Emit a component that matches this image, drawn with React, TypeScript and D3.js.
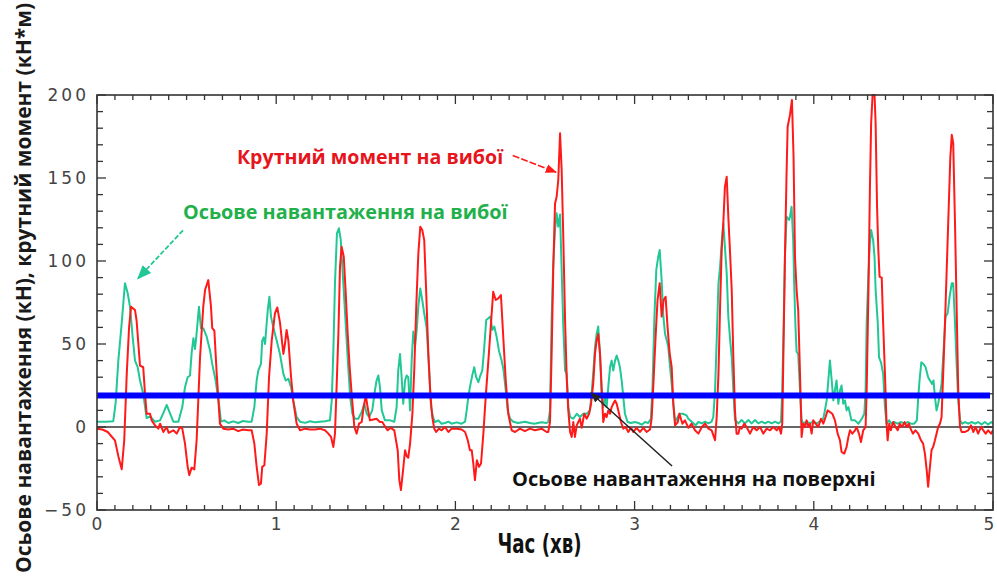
import React from 'react';
import * as d3 from 'd3';

// time (min), torque at bit (kN*m) - red
const torque: [number, number][] = [
  [0, -1], [0.03, -1.5], [0.06, -3], [0.1, -8], [0.12, -18], [0.138, -25.5], [0.152, -8], [0.166, 32],
  [0.179, 60], [0.19, 72.5], [0.212, 70.5], [0.221, 64], [0.24, 37], [0.258, 36], [0.268, 20], [0.277, 8],
  [0.296, 8], [0.305, 4], [0.324, 1], [0.342, -1], [0.352, 2], [0.37, -3], [0.389, 0], [0.4, -3.5],
  [0.426, -2], [0.445, -4], [0.463, 0], [0.476, -1], [0.491, -10], [0.506, -24], [0.515, -29], [0.528, -24.5],
  [0.543, -25.5], [0.556, -8], [0.575, 42], [0.593, 72.5], [0.603, 82.5], [0.621, 88.5], [0.636, 72.5],
  [0.643, 59.6], [0.655, 58], [0.668, 32], [0.686, 2], [0.705, -1], [0.733, -1.5], [0.76, -1], [0.788, -2.5],
  [0.815, -1.5], [0.844, -2], [0.863, -2], [0.878, -10], [0.891, -24], [0.904, -35], [0.915, -34], [0.922, -24],
  [0.934, -23], [0.947, -4], [0.96, 30], [0.975, 52], [0.993, 68.5], [1.006, 72], [1.021, 63], [1.04, 44],
  [1.049, 50], [1.058, 58.5], [1.068, 52], [1.083, 30], [1.095, 16], [1.114, 2], [1.133, -2], [1.161, -1],
  [1.189, -1.5], [1.217, -1.5], [1.244, -1], [1.272, -2], [1.291, -4], [1.306, -6], [1.319, -12], [1.328, -4],
  [1.337, 24], [1.347, 56], [1.356, 96.5], [1.365, 108.6], [1.377, 102.6], [1.388, 80.5], [1.399, 56],
  [1.41, 36], [1.421, 20], [1.436, 0], [1.449, -4], [1.462, 2], [1.477, 3], [1.488, 12], [1.5, 19], [1.51, 12],
  [1.523, 4], [1.542, 4.5], [1.56, 5], [1.579, 3], [1.592, 3], [1.603, 1], [1.622, -2], [1.64, -0.5],
  [1.659, -2], [1.678, -14], [1.687, -32], [1.696, -38], [1.708, -26], [1.719, -14], [1.728, -17.5],
  [1.737, -18.5], [1.747, -10], [1.76, 8], [1.771, 36], [1.782, 74], [1.793, 104], [1.804, 120.7],
  [1.815, 118.7], [1.826, 112.6], [1.836, 84.5], [1.849, 44], [1.86, 20], [1.871, 6], [1.882, -1],
  [1.893, -3], [1.908, -1], [1.923, -2], [1.942, 0], [1.961, -3], [1.979, -1], [2.007, -1], [2.035, -1.5],
  [2.054, -3], [2.069, -8], [2.081, -14], [2.091, -14], [2.1, -22], [2.109, -32], [2.12, -20], [2.132, -24],
  [2.143, -22], [2.156, -4], [2.169, 18], [2.184, 40], [2.197, 60], [2.211, 81.5], [2.225, 76.5],
  [2.239, 77.5], [2.254, 79.5], [2.267, 54.4], [2.281, 28], [2.295, 8], [2.314, -2], [2.333, -3], [2.36, -1],
  [2.388, -2.5], [2.416, -1], [2.444, -2], [2.481, -1], [2.509, -3], [2.518, -3], [2.528, 3], [2.537, 44],
  [2.546, 94.6], [2.556, 134.7], [2.565, 138.7], [2.574, 148.8], [2.584, 176.9], [2.593, 154.8],
  [2.602, 114.6], [2.612, 64.5], [2.621, 30], [2.63, 10], [2.64, -3], [2.649, -6], [2.658, 3], [2.667, -6],
  [2.677, 1], [2.686, 3], [2.695, 5], [2.705, -0.5], [2.719, 8], [2.733, 5], [2.746, 8], [2.757, 14],
  [2.769, 26], [2.779, 44], [2.788, 52], [2.797, 56], [2.807, 44], [2.816, 24], [2.825, 3], [2.835, 8],
  [2.844, 6], [2.853, 10], [2.863, 8], [2.872, 12], [2.881, 14], [2.891, 16], [2.9, 14], [2.909, 10],
  [2.924, 3], [2.937, -1], [2.95, 0], [2.965, -3], [2.98, -0.5], [2.993, -3], [3.011, -0.5], [3.03, -3],
  [3.049, -0.5], [3.067, -3], [3.086, -1.5], [3.095, 5], [3.104, 24], [3.117, 54], [3.128, 76.5],
  [3.14, 86.6], [3.151, 66.5], [3.162, 76.5], [3.173, 78.5], [3.184, 60], [3.196, 44], [3.207, 36],
  [3.216, 14], [3.226, 1], [3.241, 3], [3.25, 8], [3.267, 2], [3.281, 4], [3.3, -0.5], [3.318, 2],
  [3.337, -2], [3.356, -4], [3.375, 0], [3.393, 2], [3.412, -1], [3.43, -2], [3.449, -8], [3.458, 6],
  [3.468, 32], [3.477, 72.5], [3.486, 106.6], [3.495, 122.7], [3.504, 144.8], [3.514, 150.8],
  [3.523, 126.7], [3.532, 106.6], [3.542, 82.5], [3.551, 42], [3.56, 10], [3.569, -4], [3.579, -4],
  [3.588, 0], [3.597, -1], [3.612, 2], [3.625, 0], [3.644, -4], [3.662, 0], [3.681, -2], [3.7, 0],
  [3.718, -4], [3.737, -1], [3.756, -2], [3.774, 0], [3.793, -2], [3.806, 0], [3.817, -4], [3.824, 2],
  [3.83, 42], [3.839, 102.6], [3.848, 152.8], [3.854, 180.9], [3.867, 188], [3.878, 197], [3.887, 162.8],
  [3.895, 102.6], [3.904, 82.5], [3.913, 70.5], [3.923, 32], [3.932, -6], [3.941, 2], [3.95, 0], [3.96, 4],
  [3.969, 0], [3.978, 2], [3.988, -4], [3.997, 4], [4.01, 2], [4.025, 0], [4.04, 5], [4.053, 2], [4.066, 6],
  [4.077, 10], [4.09, 9], [4.103, 8], [4.118, 4], [4.133, -4], [4.146, -8], [4.155, -15], [4.17, -16],
  [4.183, -12], [4.193, -6], [4.202, -2], [4.215, -4], [4.23, -2], [4.239, 0], [4.252, -4], [4.263, -9],
  [4.276, -2], [4.289, 0], [4.295, 22], [4.305, 82.5], [4.313, 142.8], [4.32, 183], [4.328, 200],
  [4.339, 200], [4.345, 183], [4.353, 132.7], [4.36, 106.6], [4.367, 90.5], [4.379, 90], [4.387, 62.5],
  [4.397, 32], [4.406, 2], [4.412, -8], [4.421, 2], [4.43, -2], [4.443, 3], [4.456, 0], [4.468, -2],
  [4.48, 2], [4.492, 0], [4.507, 3], [4.518, 0], [4.53, 2], [4.54, -1], [4.553, -4], [4.567, -2],
  [4.583, -4], [4.598, -8], [4.61, -10], [4.62, -16], [4.63, -26], [4.638, -36], [4.648, -24], [4.657, -14],
  [4.666, -12], [4.676, -8], [4.685, -4], [4.694, 0], [4.704, 2], [4.713, 6], [4.722, 32], [4.732, 62.5],
  [4.741, 92.6], [4.75, 122.7], [4.762, 162.8], [4.77, 176], [4.778, 171], [4.788, 122.7], [4.797, 72.5],
  [4.806, 22], [4.816, 0], [4.825, -3], [4.844, -3], [4.862, -2], [4.877, 1], [4.89, -3], [4.903, 0],
  [4.917, -4], [4.933, 0], [4.946, -2], [4.959, -4], [4.973, -2], [4.989, -4], [5, -2],
];

// time (min), axial load at bit (kN) - green
const bitLoad: [number, number][] = [
  [0, 3.2], [0.05, 3.2], [0.091, 3.5], [0.104, 14.5], [0.119, 40], [0.138, 62.7], [0.156, 86.6],
  [0.171, 80.7], [0.184, 72.5], [0.197, 56.6], [0.212, 40], [0.227, 36], [0.24, 28], [0.258, 20],
  [0.277, 5.4], [0.296, 6.4], [0.324, 3.2], [0.352, 4], [0.37, 8.4], [0.389, 13.3], [0.407, 8.4],
  [0.426, 3.2], [0.454, 3.2], [0.476, 12], [0.491, 24], [0.506, 30], [0.519, 31], [0.528, 44.5],
  [0.538, 53.5], [0.547, 47], [0.556, 56.6], [0.569, 72.5], [0.58, 59.5], [0.593, 59.5], [0.612, 54.4],
  [0.631, 46], [0.643, 38], [0.662, 28], [0.68, 14.5], [0.692, 3.2], [0.71, 4], [0.733, 2.4], [0.76, 3.4],
  [0.788, 2.4], [0.815, 3.6], [0.844, 3.2], [0.863, 3.2], [0.878, 12], [0.891, 28], [0.9, 34], [0.915, 38],
  [0.922, 52], [0.93, 54], [0.938, 50], [0.945, 60], [0.953, 70.5], [0.962, 78.5], [0.971, 66.5],
  [0.984, 60], [1.003, 52], [1.021, 44], [1.04, 32], [1.053, 28], [1.068, 29], [1.083, 24], [1.095, 16],
  [1.114, 6], [1.133, 3.2], [1.161, 2.5], [1.189, 3.5], [1.217, 2.8], [1.244, 3.2], [1.272, 3.5], [1.3, 4],
  [1.31, 16], [1.319, 46], [1.328, 86.6], [1.339, 116.7], [1.35, 119.7], [1.36, 113], [1.369, 96.5],
  [1.38, 76.5], [1.391, 56], [1.402, 36], [1.413, 18], [1.425, 8], [1.44, 5], [1.458, 5], [1.477, 9],
  [1.492, 14], [1.505, 8], [1.518, 6], [1.536, 10], [1.551, 22], [1.56, 28], [1.57, 31], [1.579, 24],
  [1.589, 10], [1.607, 4], [1.635, 4], [1.659, 3.2], [1.672, 12], [1.681, 34], [1.691, 44], [1.7, 30],
  [1.709, 14], [1.719, 28], [1.728, 31], [1.737, 30], [1.747, 10], [1.756, 40], [1.765, 57.5], [1.775, 49],
  [1.784, 58.5], [1.793, 72.5], [1.804, 83.5], [1.815, 76.5], [1.826, 68.5], [1.839, 60], [1.853, 36],
  [1.864, 12], [1.875, 6], [1.886, 3], [1.905, 4], [1.923, 2], [1.942, 2.4], [1.961, 3.2], [1.979, 2],
  [2.007, 2.8], [2.035, 2], [2.054, 3.2], [2.063, 10], [2.072, 18], [2.081, 24], [2.094, 31], [2.105, 36],
  [2.116, 30], [2.128, 27], [2.139, 31], [2.15, 34], [2.161, 48], [2.172, 64.5], [2.184, 65.5],
  [2.195, 66.5], [2.206, 58.5], [2.217, 60.5], [2.23, 54.4], [2.243, 46], [2.258, 40], [2.269, 34],
  [2.281, 22], [2.292, 10], [2.305, 5], [2.323, 3.2], [2.35, 2.4], [2.388, 3.2], [2.416, 2.4], [2.44, 2],
  [2.48, 2.8], [2.509, 2.4], [2.518, 3], [2.528, 10], [2.537, 64.5], [2.546, 98.6], [2.556, 118.7],
  [2.565, 128.7], [2.574, 120.7], [2.584, 128], [2.593, 94.6], [2.602, 60.4], [2.612, 34], [2.621, 32],
  [2.63, 12], [2.64, 6], [2.658, 5], [2.677, 8], [2.695, 6], [2.714, 8], [2.733, 8], [2.751, 10], [2.76, 20],
  [2.769, 32], [2.779, 48], [2.788, 56], [2.797, 60.5], [2.807, 44], [2.816, 20], [2.825, 12], [2.835, 18],
  [2.844, 12], [2.853, 24], [2.863, 36], [2.872, 40], [2.881, 34], [2.891, 40], [2.9, 43], [2.909, 40],
  [2.918, 36], [2.928, 28], [2.937, 18], [2.946, 8], [2.961, 3], [2.98, 2.4], [3.002, 3], [3.021, 2.4],
  [3.04, 1.4], [3.058, 3], [3.076, 2.4], [3.091, 5], [3.1, 24], [3.11, 64.5], [3.121, 94.6], [3.132, 102.6],
  [3.14, 106.6], [3.151, 88.5], [3.159, 68.5], [3.17, 56], [3.18, 52], [3.188, 48], [3.198, 36],
  [3.207, 26], [3.216, 14], [3.226, 3], [3.241, 6], [3.25, 8], [3.27, 8], [3.29, 7], [3.3, 5], [3.32, 3],
  [3.34, 1], [3.356, 3], [3.375, 2.2], [3.393, 3.2], [3.412, 2.2], [3.43, 3.2], [3.439, 6], [3.449, 22],
  [3.458, 52], [3.468, 86.6], [3.477, 96.5], [3.486, 110.6], [3.495, 122.7], [3.504, 108.6], [3.514, 92.6],
  [3.523, 66.5], [3.532, 54], [3.542, 42], [3.551, 22], [3.56, 4.2], [3.579, 2.2], [3.597, 4.2],
  [3.616, 2.2], [3.635, 4.2], [3.653, 2.2], [3.672, 4.2], [3.69, 2.2], [3.709, 3.2], [3.728, 2.2],
  [3.746, 3.2], [3.765, 2.2], [3.784, 3.2], [3.802, 2.2], [3.817, 3.2], [3.824, 22], [3.832, 62.5],
  [3.839, 102.6], [3.848, 126.7], [3.862, 124.7], [3.867, 126.7], [3.876, 132.7], [3.885, 112.6],
  [3.89, 88.5], [3.897, 62.5], [3.904, 45.4], [3.913, 44], [3.923, 22], [3.932, 4.2], [3.941, 2.2],
  [3.96, 3.2], [3.978, 2.2], [3.997, 3.2], [4.015, 2.2], [4.034, 3.2], [4.053, 5], [4.062, 10], [4.072, 16],
  [4.081, 28], [4.09, 40], [4.1, 28], [4.109, 16], [4.118, 22], [4.127, 28], [4.137, 14], [4.146, 22],
  [4.155, 25], [4.164, 14], [4.174, 16], [4.183, 10], [4.193, 12], [4.202, 8], [4.21, 4], [4.23, 4],
  [4.249, 2], [4.268, 5], [4.282, 8], [4.289, 22], [4.295, 62.5], [4.305, 92.6], [4.313, 110.6],
  [4.32, 118.7], [4.331, 112.6], [4.339, 102.6], [4.345, 82.5], [4.357, 62.5], [4.364, 42], [4.375, 39],
  [4.387, 32], [4.397, 12], [4.406, 2], [4.42, 4], [4.434, 2], [4.448, 3], [4.467, 2], [4.485, 3],
  [4.507, 2], [4.523, 3], [4.542, 2], [4.56, 2], [4.575, 4], [4.583, 18], [4.59, 28], [4.6, 39],
  [4.612, 38], [4.624, 36], [4.638, 30], [4.648, 28], [4.66, 26], [4.668, 28], [4.676, 18], [4.685, 10],
  [4.694, 14], [4.704, 20], [4.713, 26], [4.722, 42], [4.735, 66.5], [4.747, 68.5], [4.758, 78.5],
  [4.77, 86.6], [4.778, 86.6], [4.788, 62.5], [4.797, 38], [4.806, 16], [4.816, 4], [4.828, 2], [4.844, 3],
  [4.862, 2], [4.88, 3], [4.9, 2], [4.917, 3], [4.936, 1.5], [4.955, 3], [4.973, 1.5], [4.99, 3], [5, 2.2],
];

// axial load at surface (kN) - blue
const surfaceLoad = 19;

const xTicks = [0, 1, 2, 3, 4, 5];
const yTicks = [-50, 0, 50, 100, 150, 200];

const W = 997;
const H = 578;
const left = 97, right = 993, top = 95, bottom = 510;

const RED = '#ff1a1a';
const GREEN = '#22c796';
const AXIS = '#333';

export default function App() {
  const x = d3.scaleLinear().domain([0, 5]).range([left, right]);
  const y = d3.scaleLinear().domain([-50, 200]).range([bottom, top]);
  const line = d3.line<[number, number]>().x(d => x(d[0])).y(d => y(d[1]));

  const xMinor = d3.range(0, 50.5, 1).map(i => i / 10);
  const yMinor = d3.range(-50, 201, 10);

  // annotation anchors in data units
  const redArrow = [[2.32, 163.5], [2.561, 153.5]];
  const greenArrow = [[0.48, 118.5], [0.229, 89.5]];
  const blackArrow = [[3.209, -23.5], [2.757, 20.5]];

  return (
    <svg width={W} height={H} style={{ position: 'absolute', left: 0, top: 0, background: '#fff' }}
      fontFamily="'DejaVu Sans', sans-serif">
      <defs>
        <clipPath id="plot">
          <rect x={left} y={top - 2} width={right - left} height={bottom - top + 2} />
        </clipPath>
        <marker id="ahRed" viewBox="0 0 10 10" refX="9" refY="5" markerWidth="7" markerHeight="7" orient="auto">
          <path d="M0,1 L10,5 L0,9 Z" fill={RED} />
        </marker>
        <marker id="ahGreen" viewBox="0 0 10 10" refX="9" refY="5" markerWidth="8" markerHeight="8" orient="auto">
          <path d="M0,1 L10,5 L0,9 Z" fill={GREEN} />
        </marker>
        <marker id="ahBlack" viewBox="0 0 10 10" refX="9" refY="5" markerWidth="7" markerHeight="7" orient="auto">
          <path d="M0,1 L10,5 L0,9 Z" fill="#222" />
        </marker>
      </defs>

      {/* ticks */}
      <g stroke={AXIS} strokeWidth={1.3}>
        {xMinor.map((t, i) => {
          const len = i % 10 === 0 ? 9 : 5;
          return (
            <g key={'xt' + i}>
              <line x1={x(t)} x2={x(t)} y1={bottom} y2={bottom - len} />
              <line x1={x(t)} x2={x(t)} y1={top} y2={top + len} />
            </g>
          );
        })}
        {yMinor.map((v, i) => {
          const len = v % 50 === 0 ? 9 : 6;
          return (
            <g key={'yt' + i}>
              <line x1={left} x2={left + len} y1={y(v)} y2={y(v)} />
              <line x1={right} x2={right - len} y1={y(v)} y2={y(v)} />
            </g>
          );
        })}
      </g>

      {/* tick labels */}
      <g fill="#444" fontSize={17}>
        {yTicks.map(v => (
          <text key={'yl' + v} x={left - 8} y={y(v)} dy="0.36em" textAnchor="end" letterSpacing={3}>
            {v < 0 ? '\u2212' + Math.abs(v) : v}
          </text>
        ))}
        {xTicks.map(t => (
          <text key={'xl' + t} x={t === 5 ? x(t) - 4 : x(t)} y={bottom + 20} textAnchor="middle">{t}</text>
        ))}
      </g>

      {/* zero line */}
      <line x1={left} x2={right} y1={y(0)} y2={y(0)} stroke="#333" strokeWidth={1.5} />

      {/* series */}
      <g clipPath="url(#plot)" fill="none" strokeLinejoin="round">
        <path d={line(bitLoad) || ''} stroke={GREEN} strokeWidth={2} />
        <path d={line(torque) || ''} stroke={RED} strokeWidth={2} />
        <line x1={left} x2={right - 3} y1={y(surfaceLoad)} y2={y(surfaceLoad)} stroke="#0000ff" strokeWidth={6} />
      </g>

      {/* frame */}
      <rect x={left} y={top} width={right - left} height={bottom - top} fill="none" stroke={AXIS} strokeWidth={1.6} />

      {/* annotations */}
      <g fontFamily="'Open Sans', sans-serif" fontWeight={700}>
        <text x={x(0.781)} y={y(158.5)} fill="#e8141c" fontSize={19.6}>Крутний момент на вибої</text>
        <text x={x(0.48)} y={y(125.5)} fill="#22b04b" fontSize={19.8}>Осьове навантаження на вибої</text>
        <text x={x(2.316)} y={y(-35.5)} fill="#111" fontSize={20}>Осьове навантаження на поверхні</text>
      </g>
      <line x1={x(redArrow[0][0])} y1={y(redArrow[0][1])} x2={x(redArrow[1][0])} y2={y(redArrow[1][1])}
        stroke={RED} strokeWidth={1.6} strokeDasharray="7 2" markerEnd="url(#ahRed)" />
      <line x1={x(greenArrow[0][0])} y1={y(greenArrow[0][1])} x2={x(greenArrow[1][0])} y2={y(greenArrow[1][1])}
        stroke={GREEN} strokeWidth={1.8} strokeDasharray="5 2" markerEnd="url(#ahGreen)" />
      <line x1={x(blackArrow[0][0])} y1={y(blackArrow[0][1])} x2={x(blackArrow[1][0])} y2={y(blackArrow[1][1])}
        stroke="#222" strokeWidth={1.5} markerEnd="url(#ahBlack)" />

      {/* axis titles */}
      <text transform={`translate(${x(2.47)},${bottom + 43}) scale(0.75,1)`} textAnchor="middle"
        fontFamily="'DejaVu Sans Condensed', 'DejaVu Sans', sans-serif" fontWeight={700} fontSize={27} fill="#111">
        Час (хв)
      </text>
      <text transform={`translate(31,${H / 2 - 1}) rotate(-90)`} textAnchor="middle"
        fontFamily="'Open Sans', sans-serif" fontWeight={700} fontSize={21} fill="#1a1a1a">
        Осьове навантаження (кН),  крутний момент (кН*м)
      </text>
    </svg>
  );
}
